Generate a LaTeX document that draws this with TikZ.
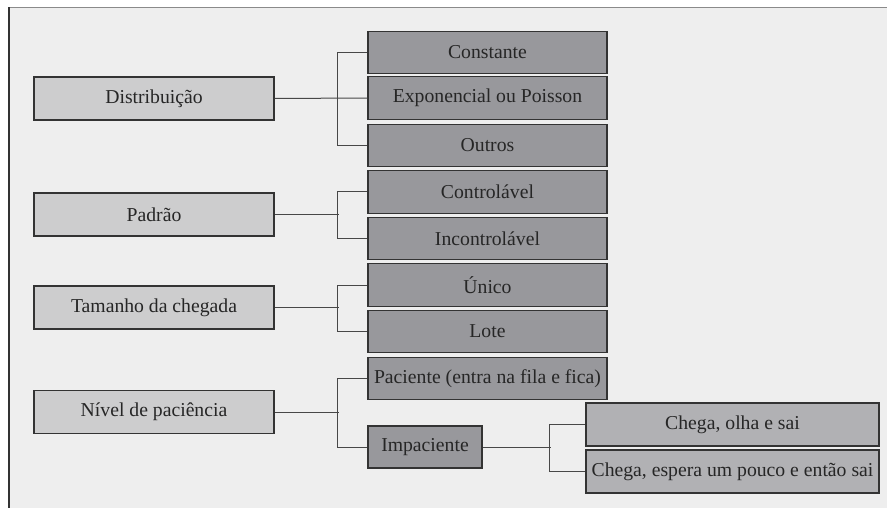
\documentclass[tikz,border=0pt]{standalone}
\usepackage{fontspec}
\setmainfont{Liberation Serif}
\definecolor{pagebg}{HTML}{EEEEEE}
\definecolor{lightfill}{HTML}{CDCDCE}
\definecolor{darkfill}{HTML}{98989C}
\definecolor{midfill}{HTML}{B1B1B4}
\definecolor{edge}{HTML}{333333}
\definecolor{inkcol}{HTML}{262626}
\definecolor{topline}{HTML}{8A8A8A}
\tikzset{
  box/.style={draw=edge, line width=1.2pt, rectangle, inner sep=0pt, text=inkcol,
    font=\fontsize{19.7}{22}\selectfont},
  catbox/.style={box, fill=lightfill, minimum width=240pt, minimum height=43pt},
  optbox/.style={box, fill=darkfill, minimum width=239pt, minimum height=42.5pt},
  smallbox/.style={box, fill=darkfill, minimum width=114pt, minimum height=42pt},
  subbox/.style={box, fill=midfill, minimum width=293pt, minimum height=43pt},
  link/.style={draw=edge!90, line width=1pt}
}
\begin{document}
\begin{tikzpicture}[x=1pt,y=-1pt]
\useasboundingbox (0,0) rectangle (887,508);
% page and frame
\fill[white] (0,0) rectangle (887,508);
\fill[pagebg] (8,7.5) rectangle (887,508);
\draw[topline, line width=1.5pt] (8,7.5) -- (887,7.5);
\draw[edge, line width=1.5pt] (9,7.5) -- (9,508);

% categories
\node[catbox] (dist) at (154,98.5) {Distribuição};
\node[catbox] (padrao) at (154,214.5) {Padrão};
\node[catbox] (tam) at (154,307.5) {Tamanho da chegada};
\node[catbox] (nivel) at (154,412) {Nível de paciência};

% options
\node[optbox] (const) at (487.5,52.5) {Constante};
\node[optbox] (expo) at (487.5,98) {Exponencial ou Poisson};
\node[optbox] (outros) at (487.5,145.5) {Outros};
\node[optbox] (ctrl) at (487.5,192) {Controlável};
\node[optbox] (inctrl) at (487.5,238.5) {Incontrolável};
\node[optbox] (unico) at (487.5,285) {Único};
\node[optbox] (lote) at (487.5,331.5) {Lote};
\node[optbox] (pac) at (487.5,378.5) {Paciente (entra na fila e fica)};
\node[smallbox] (impac) at (425,447) {Impaciente};
\node[subbox] (olha) at (732.5,424.5) {Chega, olha e sai};
\node[subbox] (espera) at (732.5,471.5) {Chega, espera um pouco e então sai};

% connectors
\draw[link] (dist.east) -- (expo.west);
\draw[link] (const.west) -- ++(-30,0) |- (outros.west);

\draw[link] (padrao.east) -- ++(64,0);
\draw[link] (ctrl.west) -- ++(-30,0) |- (inctrl.west);

\draw[link] (tam.east) -- ++(64,0);
\draw[link] (unico.west) -- ++(-30,0) |- (lote.west);

\draw[link] (nivel.east) -- ++(64,0);
\draw[link] (pac.west) -- ++(-30,0) |- (impac.west);

\draw[link] (impac.east) -- ++(68,0);
\draw[link] (olha.west) -- ++(-36,0) |- (espera.west);
\end{tikzpicture}
\end{document}
